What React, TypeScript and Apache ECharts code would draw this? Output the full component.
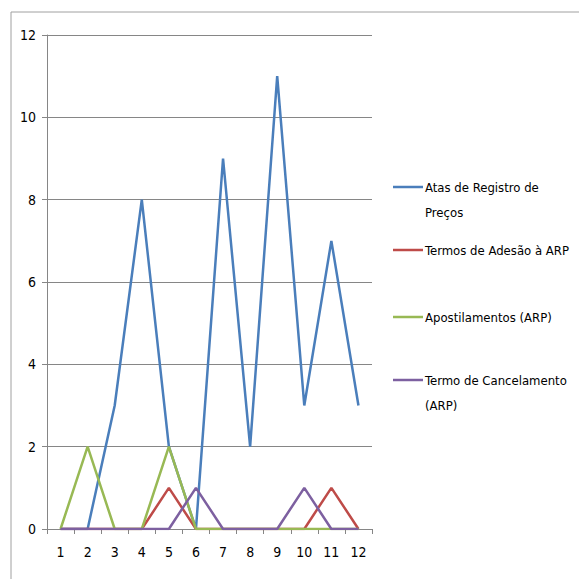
import React, { useEffect, useRef } from "react";
import * as echarts from "echarts";

const categories = ["1", "2", "3", "4", "5", "6", "7", "8", "9", "10", "11", "12"];
const seriesNames = [
  "Atas de Registro de Preços",
  "Termos de Adesão à ARP",
  "Apostilamentos (ARP)",
  "Termo de Cancelamento (ARP)",
];
const legendLines = [
  ["Atas de Registro de", "Preços"],
  ["Termos de Adesão à ARP"],
  ["Apostilamentos (ARP)"],
  ["Termo de Cancelamento", "(ARP)"],
];
const atas = [0, 0, 3, 8, 2, 0, 9, 2, 11, 3, 7, 3];
const termosAdesao = [0, 0, 0, 0, 1, 0, 0, 0, 0, 0, 1, 0];
const apostilamentos = [0, 2, 0, 0, 2, 0, 0, 0, 0, 0, 0, 0];
const cancelamento = [0, 0, 0, 0, 0, 1, 0, 0, 0, 1, 0, 0];
const colors = ["#4A7EBB", "#BE4B48", "#98B954", "#7D60A0"];

const FONT = "'Liberation Sans Narrow', 'DejaVu Sans Condensed', 'Liberation Sans', sans-serif";

export default function App() {
  const ref = useRef<HTMLDivElement>(null);
  useEffect(() => {
    if (!ref.current) return;
    const chart = echarts.init(ref.current, undefined, { renderer: "svg" });
    const data = [atas, termosAdesao, apostilamentos, cancelamento];
    const legendY = [187, 250, 317, 380];
    const legendGraphics: any[] = [];
    legendLines.forEach((lines, i) => {
      legendGraphics.push({
        type: "line",
        shape: { x1: 393, y1: legendY[i], x2: 423, y2: legendY[i] },
        style: { stroke: colors[i], lineWidth: 2.5 },
      });
      lines.forEach((t, j) => {
        legendGraphics.push({
          type: "text",
          x: 425,
          y: legendY[i] + j * 25,
          style: {
            text: t,
            font: `13px ${FONT}`,
            fill: "#000",
            verticalAlign: "middle",
            textAlign: "left",
          },
        });
      });
    });
    chart.setOption({
      animation: false,
      backgroundColor: "#fff",
      grid: { left: 47, right: 207, top: 35, bottom: 50, containLabel: false },
      xAxis: {
        type: "category",
        data: categories,
        boundaryGap: true,
        axisLine: { lineStyle: { color: "#868686", width: 1 } },
        axisTick: { show: true, alignWithLabel: false, length: 5, lineStyle: { color: "#868686" } },
        axisLabel: { color: "#000", fontSize: 14, fontFamily: FONT, margin: 16 },
        splitLine: { show: false },
      },
      yAxis: {
        type: "value",
        min: 0,
        max: 12,
        interval: 2,
        axisLine: { show: true, lineStyle: { color: "#868686", width: 1 } },
        axisTick: { show: true, length: 5, lineStyle: { color: "#868686" } },
        axisLabel: { color: "#000", fontSize: 14, fontFamily: FONT, margin: 11 },
        splitLine: { show: true, lineStyle: { color: "#868686", width: 1 } },
      },
      series: seriesNames.map((name, i) => ({
        name,
        type: "line",
        data: data[i],
        symbol: "none",
        lineStyle: { color: colors[i], width: 2.5 },
        itemStyle: { color: colors[i] },
        z: 2 + i,
      })),
      graphic: [
        {
          type: "rect",
          shape: { x: 11, y: 12, width: 700, height: 700 },
          style: { fill: "none", stroke: "#A0A0A0", lineWidth: 1 },
          silent: true,
        },
        ...legendGraphics,
      ],
    });
    return () => chart.dispose();
  }, []);
  return (
    <div
      ref={ref}
      style={{ position: "fixed", left: 0, top: 0, width: 579, height: 579 }}
    />
  );
}
